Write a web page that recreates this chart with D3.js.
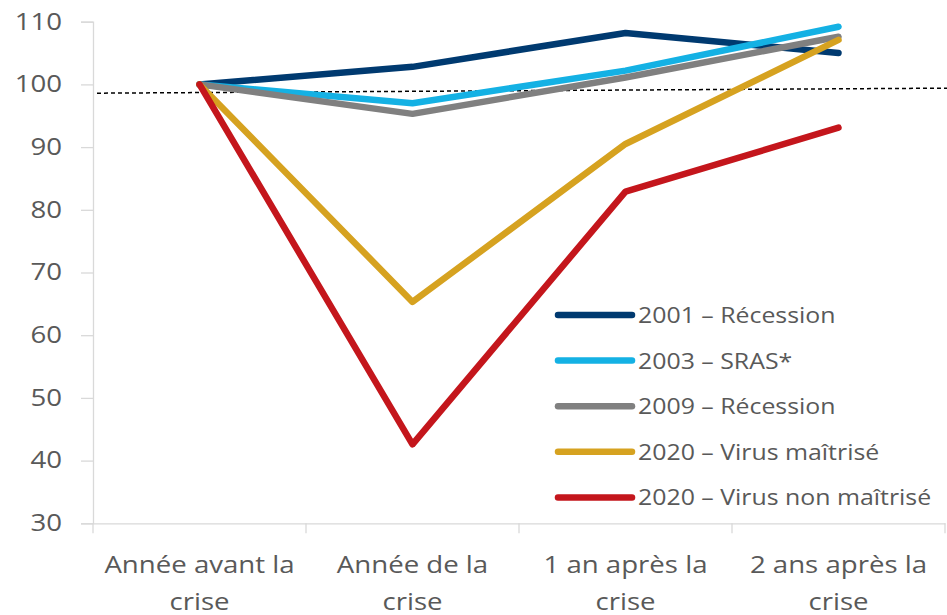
<!DOCTYPE html>
<html><head><meta charset="utf-8">
<script src="https://cdn.jsdelivr.net/npm/d3@7/dist/d3.min.js"></script>
<style>
html,body{margin:0;padding:0;background:#fff;}
svg{display:block;}
text{font-family:"Open Sans",sans-serif;fill:#595959;}
</style></head>
<body>
<svg id="chart" width="947" height="615"></svg>
<script>
const categories = [["Année avant la","crise"],["Année de la","crise"],["1 an après la","crise"],["2 ans après la","crise"]];
const seriesNames = ["2001 – Récession","2003 – SRAS*","2009 – Récession","2020 – Virus maîtrisé","2020 – Virus non maîtrisé"];
const s2001 = [100, 102.8, 108.2, 105.0];
const s2003 = [100, 97.0, 102.2, 109.2];
const s2009 = [100, 95.3, 101.1, 107.6];
const s2020a = [100, 65.3, 90.5, 107.1];
const s2020b = [100, 42.6, 82.9, 93.1];
const yTicks = [30,40,50,60,70,80,90,100,110];
const refLine = [98.6, 99.4];
const colors = ["#003a70","#14b1e4","#808080","#d6a220","#c4161c"];

(function(){
const series = [s2001,s2003,s2009,s2020a,s2020b];
const svg = d3.select("#chart");
const mLeft = 93, mRight = 945, mTop = 21.7, mBottom = 523.3;
const TS = 1.2;   // horizontal stretch of axis labels
const TSL = 1.13; // horizontal stretch of legend labels

const x = d3.scaleBand().domain(d3.range(categories.length)).range([mLeft,mRight]);
const y = d3.scaleLinear().domain([30,110]).range([mBottom,mTop]);
const cx = i => x(i) + x.bandwidth()/2;

function stretch(f){
  return function(sel){
    sel.each(function(){
      const len = this.getComputedTextLength();
      d3.select(this).attr("textLength", len*f).attr("lengthAdjust","spacingAndGlyphs");
    });
  };
}

// Y axis
const yAxis = d3.axisLeft(y).tickValues(yTicks).tickSize(12).tickPadding(19);
const gy = svg.append("g").attr("transform",`translate(${mLeft},0)`).call(yAxis);
gy.select(".domain").attr("stroke","#d9d9d9").attr("stroke-width",1.3);
gy.selectAll(".tick line").attr("stroke","#d9d9d9").attr("stroke-width",1.3);
gy.selectAll(".tick text").attr("font-size",23).attr("font-family","Open Sans").attr("fill","#595959").call(stretch(TS));

// X axis line and ticks
const xAxis = d3.axisBottom(x).tickSize(0).tickFormat("");
const gx = svg.append("g").attr("transform",`translate(0,${mBottom})`).call(xAxis);
gx.select(".domain").attr("stroke","#d9d9d9").attr("stroke-width",1.3);
const bounds = d3.range(categories.length+1).map(i => i<categories.length ? x(i) : x(i-1)+x.bandwidth());
gx.selectAll("line.b").data(bounds).join("line").attr("class","b")
  .attr("x1",d=>d).attr("x2",d=>d).attr("y1",0).attr("y2",10)
  .attr("stroke","#d9d9d9").attr("stroke-width",1.3);
const lab = svg.append("g");
categories.forEach((c,i)=>{
  c.forEach((t,j)=>{
    lab.append("text").attr("x",cx(i)).attr("y",573+j*37)
      .attr("text-anchor","middle").attr("font-size",23).text(t).call(stretch(TS));
  });
});

// reference dashed line
svg.append("line")
  .attr("x1",mLeft+4).attr("x2",947)
  .attr("y1",y(refLine[0])).attr("y2",y(refLine[1]))
  .attr("stroke","#000").attr("stroke-width",1.5).attr("stroke-dasharray","4,3");

// series lines
const line = d3.line().x((d,i)=>cx(i)).y(d=>y(d));
series.forEach((s,k)=>{
  svg.append("path").datum(s).attr("d",line)
    .attr("fill","none").attr("stroke",colors[k]).attr("stroke-width",6.5)
    .attr("stroke-linecap","round").attr("stroke-linejoin","round");
});

// legend
const lg = svg.append("g");
seriesNames.forEach((n,k)=>{
  const ly = 315 + k*45.6;
  lg.append("line").attr("x1",558).attr("x2",632).attr("y1",ly).attr("y2",ly)
    .attr("stroke",colors[k]).attr("stroke-width",6.5).attr("stroke-linecap","round");
  lg.append("text").attr("x",638).attr("y",ly+8).attr("font-size",22).text(n).call(stretch(TSL));
});
})();
</script>
</body></html>
